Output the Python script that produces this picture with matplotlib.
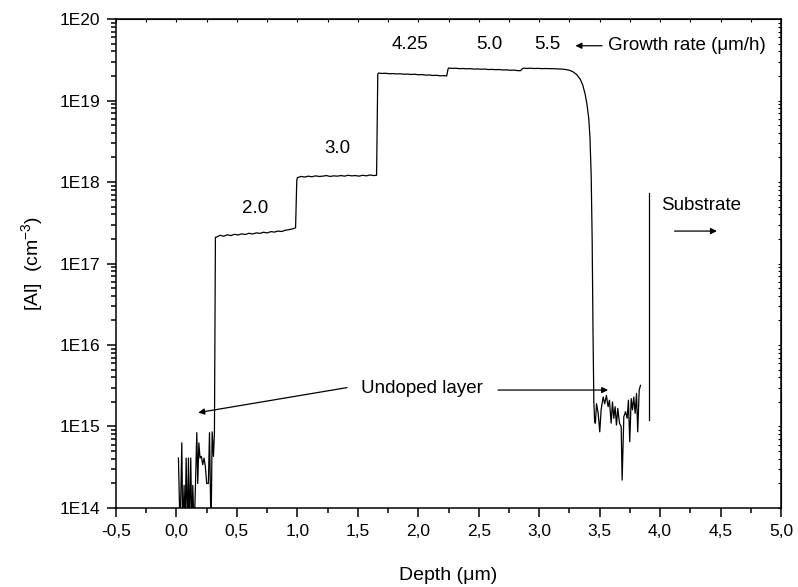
import numpy as np
import matplotlib.pyplot as plt
from matplotlib.ticker import FuncFormatter, MultipleLocator, LogLocator

plt.rcParams['font.family'] = ['Liberation Sans', 'DejaVu Sans']
plt.rcParams['mathtext.default'] = 'regular'

# undoped surface layer (values below 1E14 fall off the axis)
undoped_depth = [0.016, 0.030, 0.044, 0.052, 0.063, 0.071, 0.080, 0.091, 0.099, 0.107,
                 0.118, 0.127, 0.135, 0.146, 0.157, 0.168, 0.176, 0.185, 0.195, 0.206,
                 0.217, 0.228, 0.239, 0.250, 0.264, 0.273, 0.286, 0.295, 0.306, 0.314]
undoped_conc = [4.1e14, 5e13, 6.3e14, 5e13, 1.9e14, 5e13, 4.1e14, 5e13, 4.1e14, 5e13,
                4.1e14, 5e13, 1.9e14, 5e13, 1.9e14, 8.4e14, 2.0e14, 6.3e14, 4.1e14, 4.3e14,
                3.4e14, 4.1e14, 3.2e14, 2.0e14, 2.0e14, 8.4e14, 5e13, 8.6e14, 4.3e14, 8.6e14]

# doped layers, growth rate 2.0 / 3.0 / 4.25 / 5.0 / 5.5 um/h
layer_depth = [0.322,
               0.33, 0.36, 0.39, 0.42, 0.45, 0.48, 0.51, 0.54, 0.57, 0.60, 0.63, 0.66,
               0.69, 0.72, 0.75, 0.78, 0.81, 0.84, 0.87, 0.90, 0.93, 0.96, 0.985,
               0.995,
               1.00, 1.03, 1.06, 1.09, 1.12, 1.15, 1.18, 1.21, 1.24, 1.27, 1.30, 1.33,
               1.36, 1.39, 1.42, 1.45, 1.48, 1.51, 1.54, 1.57, 1.60, 1.63, 1.655,
               1.665,
               1.67, 1.70, 1.73, 1.76, 1.79, 1.82, 1.85, 1.88, 1.91, 1.94, 1.97, 2.00,
               2.03, 2.06, 2.09, 2.12, 2.15, 2.18, 2.21, 2.235,
               2.245,
               2.25, 2.28, 2.31, 2.34, 2.37, 2.40, 2.43, 2.46, 2.49, 2.52, 2.55, 2.58,
               2.61, 2.64, 2.67, 2.70, 2.73, 2.76, 2.79, 2.82, 2.845,
               2.86,
               2.87, 2.90, 2.93, 2.96, 2.99, 3.02, 3.05, 3.08, 3.11, 3.14, 3.17, 3.19,
               3.22, 3.25, 3.28, 3.31, 3.34, 3.36, 3.38, 3.395, 3.41, 3.42, 3.43, 3.438,
               3.445, 3.452, 3.458, 3.462]
layer_conc = [2.1e17,
              2.10e17, 2.22e17, 2.16e17, 2.25e17, 2.20e17, 2.28e17, 2.24e17, 2.31e17, 2.27e17,
              2.35e17, 2.30e17, 2.38e17, 2.34e17, 2.42e17, 2.37e17, 2.46e17, 2.43e17, 2.50e17,
              2.47e17, 2.56e17, 2.60e17, 2.66e17, 2.74e17,
              1.05e18,
              1.13e18, 1.17e18, 1.15e18, 1.18e18, 1.16e18, 1.19e18, 1.17e18, 1.18e18, 1.20e18,
              1.17e18, 1.19e18, 1.18e18, 1.20e18, 1.18e18, 1.21e18, 1.19e18, 1.20e18, 1.18e18,
              1.21e18, 1.19e18, 1.22e18, 1.20e18, 1.21e18,
              2.1e19,
              2.17e19, 2.15e19, 2.16e19, 2.13e19, 2.14e19, 2.12e19, 2.13e19, 2.10e19, 2.11e19,
              2.09e19, 2.10e19, 2.07e19, 2.08e19, 2.05e19, 2.06e19, 2.03e19, 2.04e19, 2.01e19,
              2.02e19, 2.00e19,
              2.4e19,
              2.50e19, 2.48e19, 2.49e19, 2.46e19, 2.47e19, 2.45e19, 2.46e19, 2.43e19, 2.44e19,
              2.42e19, 2.43e19, 2.40e19, 2.41e19, 2.39e19, 2.40e19, 2.37e19, 2.38e19, 2.35e19,
              2.36e19, 2.33e19, 2.32e19,
              2.45e19,
              2.49e19, 2.48e19, 2.49e19, 2.47e19, 2.48e19, 2.46e19, 2.47e19, 2.46e19, 2.46e19,
              2.45e19, 2.44e19, 2.43e19,
              2.40e19, 2.35e19, 2.25e19, 2.08e19, 1.82e19, 1.55e19, 1.2e19, 9e18, 6e18, 3.5e18,
              1.2e18, 2e17, 1.5e16, 2e15, 1.2e15, 1.1e15]

# background near the substrate interface
tail_depth = [3.465, 3.474, 3.488, 3.501, 3.512, 3.529, 3.542, 3.556, 3.570, 3.581,
              3.595, 3.606, 3.617, 3.628, 3.639, 3.650, 3.664, 3.678, 3.686, 3.700,
              3.714, 3.728, 3.738, 3.749, 3.761, 3.772, 3.782, 3.794, 3.805, 3.815,
              3.827, 3.838]
tail_conc = [1.1e15, 1.9e15, 1.45e15, 8.6e14, 1.6e15, 2.3e15, 1.9e15, 2.4e15, 1.75e15, 2.1e15,
             1.1e15, 2.0e15, 1.26e15, 1.75e15, 1.04e15, 1.67e15, 1.1e15, 1.0e15, 2.2e14, 1.32e15,
             1.52e15, 1.26e15, 2.1e15, 6.5e14, 2.2e15, 1.6e15, 2.3e15, 1.45e15, 2.55e15, 8.6e14,
             2.8e15, 3.2e15]

substrate_depth = [3.912, 3.912]
substrate_conc = [1.2e15, 7.3e17]

rate_labels = ['2.0', '3.0', '4.25', '5.0', '5.5']
rate_depth = [0.65, 1.33, 1.93, 2.59, 3.07]
rate_conc = [4.7e17, 2.6e18, 4.9e19, 4.9e19, 4.9e19]

depth = undoped_depth + layer_depth + tail_depth
conc = undoped_conc + layer_conc + tail_conc

fig = plt.figure(figsize=(7.98, 5.87), dpi=100)
ax = fig.add_axes([0.1454, 0.1346, 0.8333, 0.833])

ax.plot(depth, conc, color='black', lw=0.9)
ax.plot(substrate_depth, substrate_conc, color='black', lw=0.9)

ax.set_yscale('log')
ax.set_xlim(-0.5, 5.0)
ax.set_ylim(1e14, 1e20)

ax.xaxis.set_major_locator(MultipleLocator(0.5))
ax.xaxis.set_minor_locator(MultipleLocator(0.25))
ax.xaxis.set_major_formatter(FuncFormatter(lambda v, p: f'{v:.1f}'.replace('.', ',')))
ax.yaxis.set_major_locator(LogLocator(base=10, numticks=10))
ax.yaxis.set_minor_locator(LogLocator(base=10, subs=np.arange(2, 10), numticks=20))
ax.yaxis.set_major_formatter(FuncFormatter(lambda v, p: f'1E{int(round(np.log10(v)))}'))
ax.yaxis.set_minor_formatter(FuncFormatter(lambda v, p: ''))

ax.tick_params(which='major', direction='out', length=6.5, width=1.1, labelsize=12.5, pad=5)
ax.tick_params(which='minor', direction='out', length=3.6, width=1.1)
for s in ax.spines.values():
    s.set_linewidth(1.1)

# tiny inward ticks on top and right
top = ax.secondary_xaxis('top')
top.xaxis.set_major_locator(MultipleLocator(0.25))
top.tick_params(direction='in', length=2, width=0.8, labeltop=False)
right = ax.secondary_yaxis('right')
right.set_yscale('log')
right.yaxis.set_major_locator(LogLocator(base=10, numticks=10))
right.yaxis.set_minor_locator(LogLocator(base=10, subs=np.arange(2, 10), numticks=20))
right.tick_params(which='both', direction='in', length=2, width=0.8, labelright=False)

ax.set_xlabel('Depth (\u03bcm)', fontsize=14, labelpad=20)
ax.set_ylabel('[Al]  (cm$^{-3}$)', fontsize=14, labelpad=10)

for lab, d, c in zip(rate_labels, rate_depth, rate_conc):
    ax.text(d, c, lab, fontsize=13.5, ha='center', va='center')

arrow = dict(arrowstyle='-|>', color='black', lw=0.9, mutation_scale=9, shrinkA=0, shrinkB=0)
ax.annotate('', xy=(3.30, 4.7e19), xytext=(3.52, 4.7e19), arrowprops=arrow)
ax.text(3.57, 4.7e19, 'Growth rate (\u03bcm/h)', fontsize=13.5, ha='left', va='center')

ax.text(2.03, 2.9e15, 'Undoped layer', fontsize=13.5, ha='center', va='center')
ax.annotate('', xy=(0.18, 1.48e15), xytext=(1.41, 3.0e15), arrowprops=arrow)
ax.annotate('', xy=(3.57, 2.8e15), xytext=(2.66, 2.8e15), arrowprops=arrow)

ax.text(4.01, 5.2e17, 'Substrate', fontsize=13.5, ha='left', va='center')
ax.annotate('', xy=(4.47, 2.5e17), xytext=(4.12, 2.5e17), arrowprops=arrow)

fig.savefig('out.png', dpi=100)
